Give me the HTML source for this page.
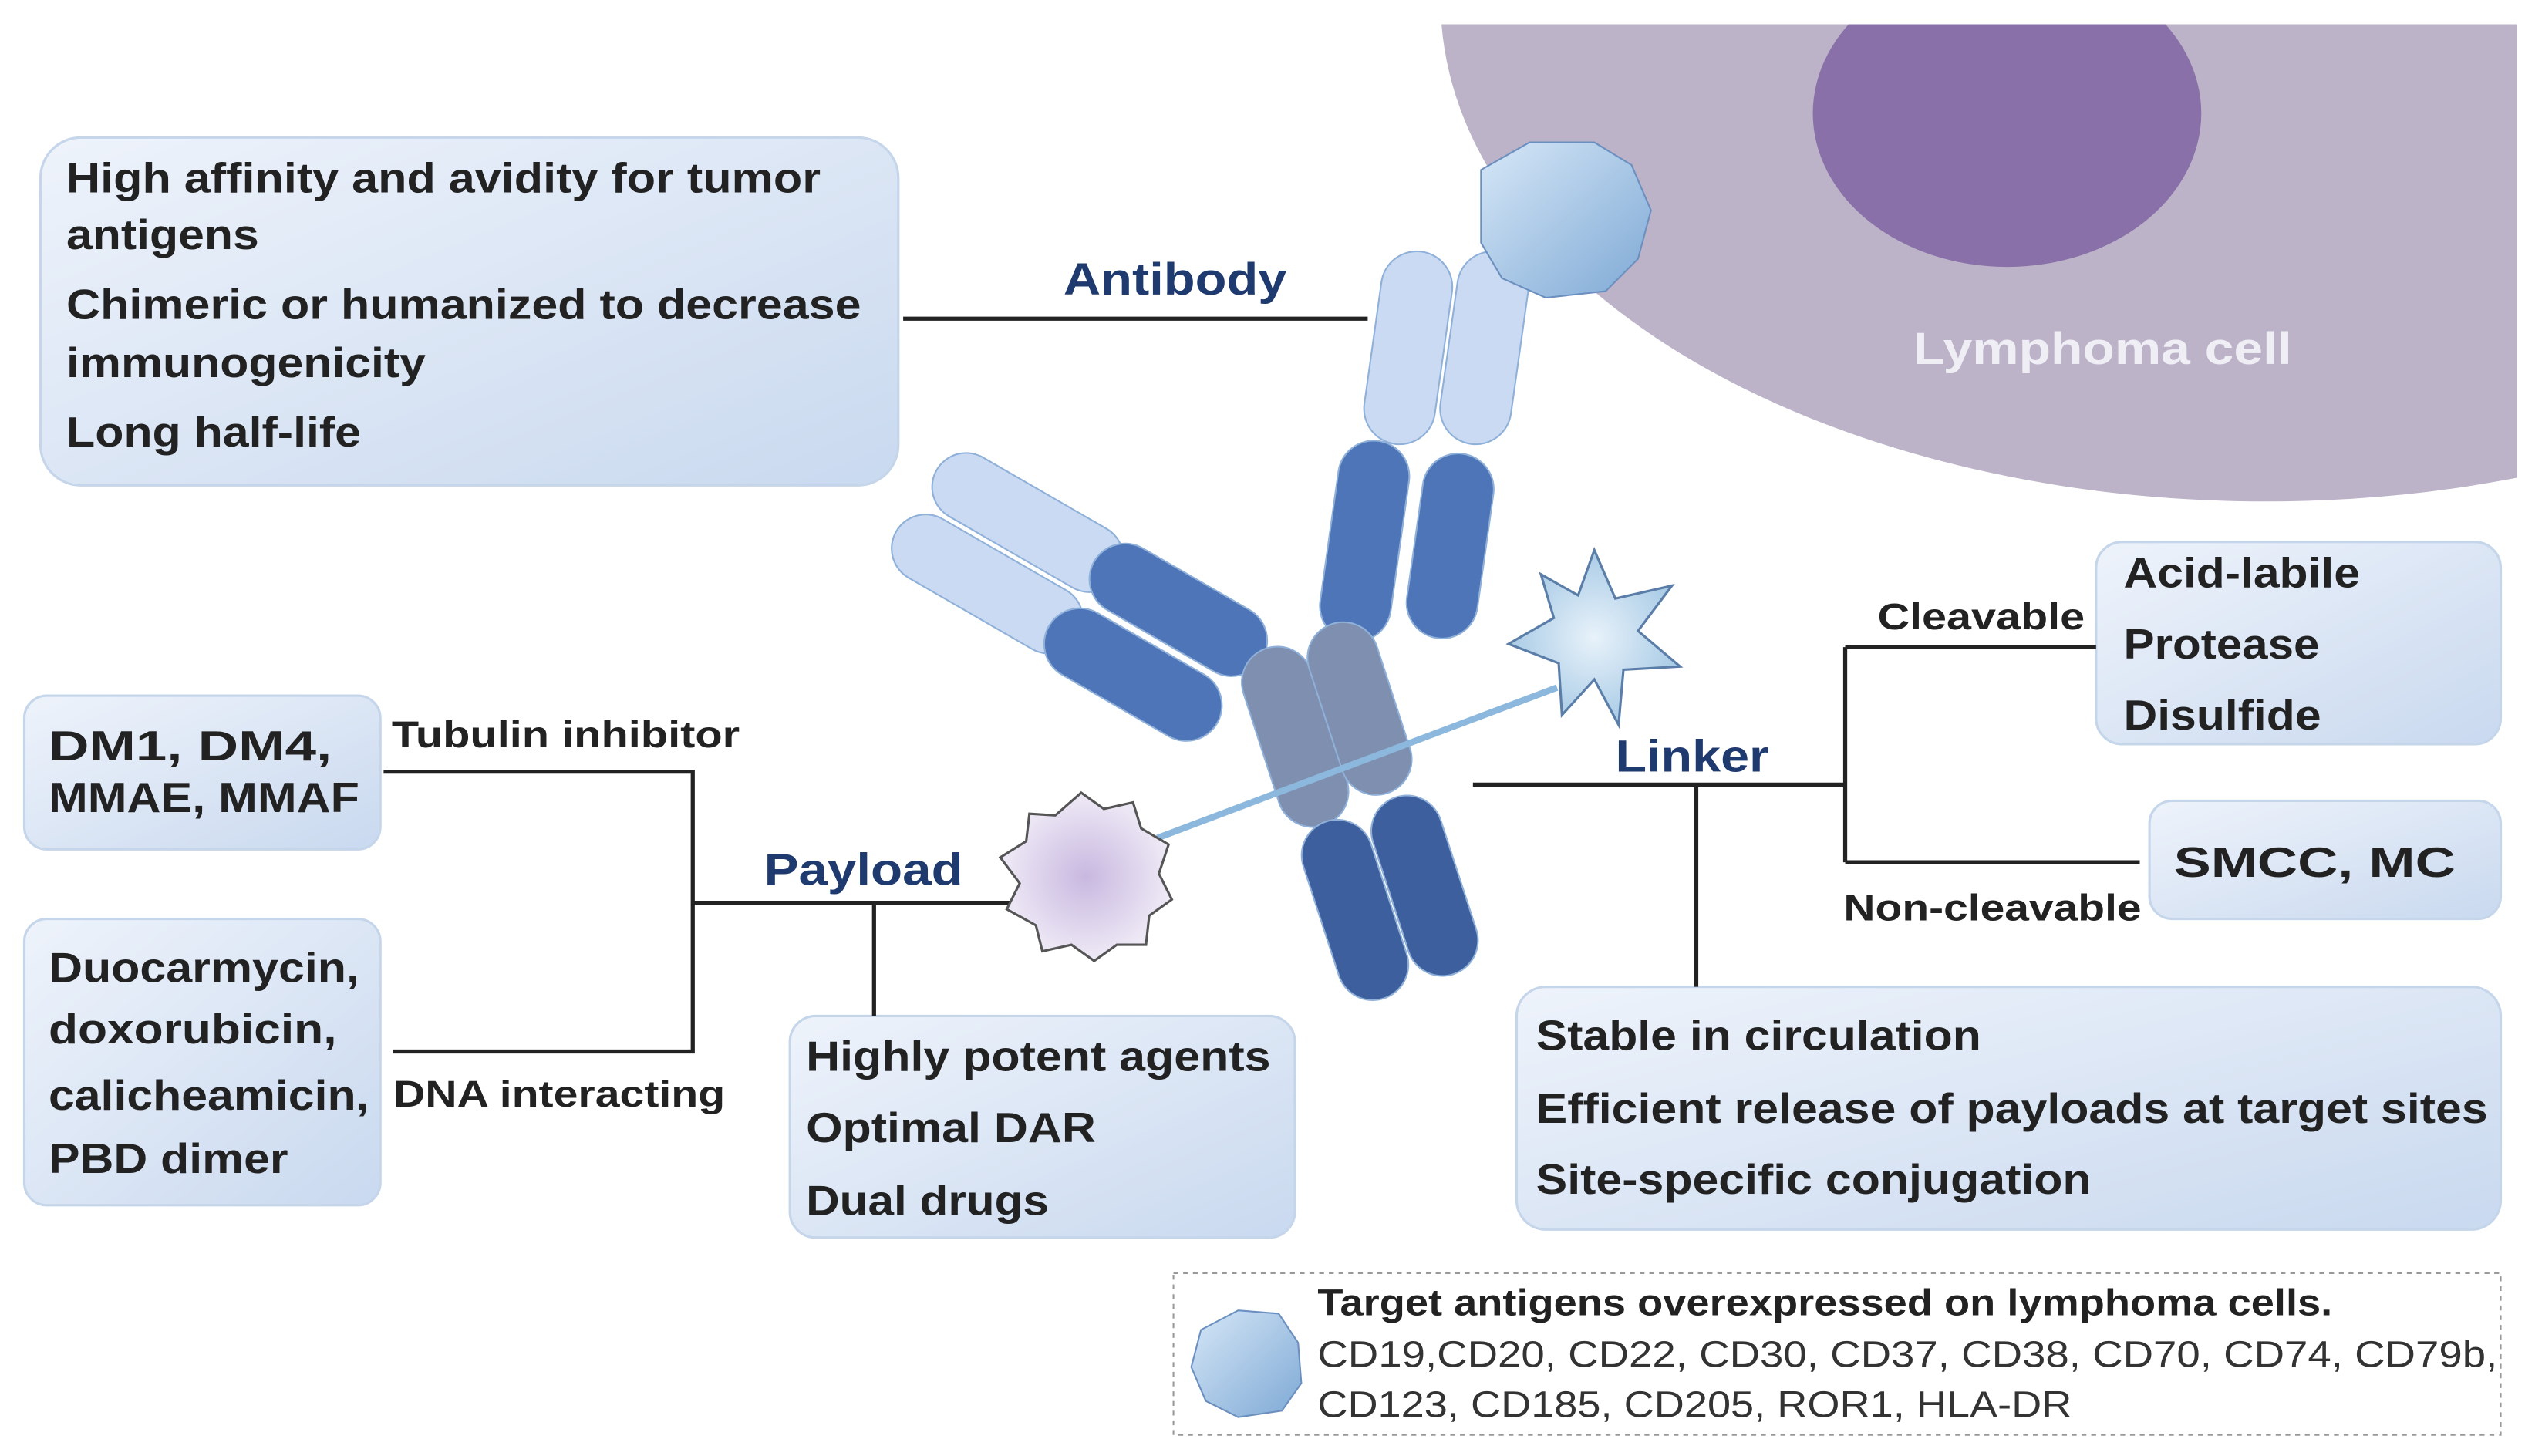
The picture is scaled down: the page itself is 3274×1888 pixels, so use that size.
<!DOCTYPE html>
<html><head><meta charset="utf-8"><style>
html,body{margin:0;padding:0;background:#fff;}
svg{display:block;}
text{font-family:"Liberation Sans",Arial,sans-serif;}
</style></head><body>
<svg width="3274" height="1888" viewBox="0 0 1560 900" preserveAspectRatio="none" xmlns="http://www.w3.org/2000/svg">
<defs>
<linearGradient id="bx" x1="0" y1="0" x2="1" y2="1">
<stop offset="0" stop-color="#eef3fb"/><stop offset="1" stop-color="#c9d9ef"/></linearGradient>
<radialGradient id="pl" cx="0.5" cy="0.5" r="0.5"><stop offset="0" stop-color="#c8b8e0"/><stop offset="1" stop-color="#efeaf6"/></radialGradient>
<radialGradient id="st" cx="0.5" cy="0.5" r="0.5"><stop offset="0" stop-color="#e8f2fa"/><stop offset="1" stop-color="#a9cbe6"/></radialGradient>
<linearGradient id="ag" x1="0" y1="0" x2="1" y2="1"><stop offset="0" stop-color="#d6e7f7"/><stop offset="1" stop-color="#7ea9d5"/></linearGradient>
<clipPath id="cc"><rect x="0" y="15" width="1555" height="900"/></clipPath>
</defs>
<g clip-path="url(#cc)">
<ellipse cx="1400" cy="0" rx="510" ry="310" fill="#bcb3c9"/>
<ellipse cx="1240" cy="70" rx="120" ry="95" fill="#8a70a8"/>
</g>
<text x="1182" y="225" font-size="28" font-weight="bold" fill="#f0eef5" textLength="234" lengthAdjust="spacingAndGlyphs">Lymphoma cell</text>

<g fill="url(#bx)" stroke="#c5d5ea" stroke-width="1.5">
<rect x="25" y="85" width="530" height="215" rx="25"/>
<rect x="15" y="430" width="220" height="95" rx="14"/>
<rect x="15" y="568" width="220" height="177" rx="14"/>
<rect x="488" y="628" width="312" height="137" rx="16"/>
<rect x="1295" y="335" width="250" height="125" rx="16"/>
<rect x="1328" y="495" width="217" height="73" rx="14"/>
<rect x="937" y="610" width="608" height="150" rx="18"/>
</g>
<rect x="725" y="787" width="820" height="100" fill="none" stroke="#999" stroke-dasharray="3,3"/>

<g stroke="#222" stroke-width="2.5" fill="none">
<path d="M558 197H845"/>
<path d="M237 477H428V650H243"/>
<path d="M428 558H630"/>
<path d="M540 558V628"/>
<path d="M910 485H1140"/>
<path d="M1140 400V533"/>
<path d="M1140 400H1295"/>
<path d="M1140 533H1322"/>
<path d="M1048 485V610"/>
</g>

<g stroke="#8fb0d8" stroke-width="1">
<rect x="848" y="155" width="44" height="120" rx="22" fill="#c9daf2" transform="rotate(8 870 215)"/>
<rect x="895" y="155" width="44" height="120" rx="22" fill="#c9daf2" transform="rotate(8 917 215)"/>
<rect x="821" y="272" width="44" height="125" rx="22" fill="#4d75b8" transform="rotate(8 843 335)"/>
<rect x="874" y="280" width="44" height="115" rx="22" fill="#4d75b8" transform="rotate(8 896 337)"/>
<rect x="570" y="302" width="130" height="42" rx="21" fill="#c9daf2" transform="rotate(30 635 323)"/>
<rect x="545" y="340" width="130" height="42" rx="21" fill="#c9daf2" transform="rotate(30 610 361)"/>
<rect x="668" y="355" width="120" height="44" rx="22" fill="#4d75b8" transform="rotate(30 728 377)"/>
<rect x="640" y="395" width="120" height="44" rx="22" fill="#4d75b8" transform="rotate(30 700 417)"/>
<rect x="778" y="398" width="44" height="115" rx="22" fill="#7f8fb0" transform="rotate(-18 800 455)"/>
<rect x="818" y="383" width="44" height="110" rx="22" fill="#7f8fb0" transform="rotate(-18 840 438)"/>
<rect x="815" y="505" width="44" height="115" rx="22" fill="#3e5f9e" transform="rotate(-18 837 562)"/>
<rect x="858" y="490" width="44" height="115" rx="22" fill="#3e5f9e" transform="rotate(-18 880 547)"/>
</g>
<path d="M915 105 L945 88 L985 88 L1008 102 L1020 130 L1012 160 L992 180 L955 184 L928 172 L915 150 Z" fill="url(#ag)" stroke="#6b8fbf"/>
<line x1="715" y1="518" x2="962" y2="425" stroke="#8bb8dc" stroke-width="4"/>
<polygon points="985,340 998,370 1033,362 1012,390 1038,412 1003,414 1000,448 985,420 965,442 963,410 932,398 960,382 952,355 975,368" fill="url(#st)" stroke="#5b7ea8" stroke-width="1.5"/>
<path d="M668 490 L682 500 L700 496 L705 512 L722 522 L716 540 L724 556 L710 566 L708 584 L690 584 L676 594 L662 584 L644 588 L640 572 L622 562 L630 546 L618 530 L634 520 L636 503 L652 504Z" fill="url(#pl)" stroke="#555" stroke-width="1.5"/>

<g font-weight="bold" fill="#1e3a6e" font-size="28">
<text x="657" y="182" textLength="138" lengthAdjust="spacingAndGlyphs">Antibody</text>
<text x="472" y="547" textLength="123" lengthAdjust="spacingAndGlyphs">Payload</text>
<text x="998" y="477" textLength="95" lengthAdjust="spacingAndGlyphs">Linker</text>
</g>
<g font-weight="bold" fill="#222" font-size="23">
<text x="242" y="462" textLength="215" lengthAdjust="spacingAndGlyphs">Tubulin inhibitor</text>
<text x="243" y="684" textLength="205" lengthAdjust="spacingAndGlyphs">DNA interacting</text>
<text x="1160" y="389" textLength="128" lengthAdjust="spacingAndGlyphs">Cleavable</text>
<text x="1139" y="569" textLength="184" lengthAdjust="spacingAndGlyphs">Non-cleavable</text>
</g>
<g font-weight="bold" fill="#222" font-size="26">
<text x="41" y="119" textLength="466" lengthAdjust="spacingAndGlyphs">High affinity and avidity for tumor</text>
<text x="41" y="154" textLength="119" lengthAdjust="spacingAndGlyphs">antigens</text>
<text x="41" y="197" textLength="491" lengthAdjust="spacingAndGlyphs">Chimeric or humanized to decrease</text>
<text x="41" y="233" textLength="222" lengthAdjust="spacingAndGlyphs">immunogenicity</text>
<text x="41" y="276" textLength="182" lengthAdjust="spacingAndGlyphs">Long half-life</text>
<text x="30" y="470" textLength="175" lengthAdjust="spacingAndGlyphs">DM1, DM4,</text>
<text x="30" y="502" textLength="192" lengthAdjust="spacingAndGlyphs">MMAE, MMAF</text>
<text x="30" y="607" textLength="192" lengthAdjust="spacingAndGlyphs">Duocarmycin,</text>
<text x="30" y="645" textLength="178" lengthAdjust="spacingAndGlyphs">doxorubicin,</text>
<text x="30" y="686" textLength="198" lengthAdjust="spacingAndGlyphs">calicheamicin,</text>
<text x="30" y="725" textLength="148" lengthAdjust="spacingAndGlyphs">PBD dimer</text>
<text x="498" y="662" textLength="287" lengthAdjust="spacingAndGlyphs">Highly potent agents</text>
<text x="498" y="706" textLength="179" lengthAdjust="spacingAndGlyphs">Optimal DAR</text>
<text x="498" y="751" textLength="150" lengthAdjust="spacingAndGlyphs">Dual drugs</text>
<text x="1312" y="363" textLength="146" lengthAdjust="spacingAndGlyphs">Acid-labile</text>
<text x="1312" y="407" textLength="121" lengthAdjust="spacingAndGlyphs">Protease</text>
<text x="1312" y="451" textLength="122" lengthAdjust="spacingAndGlyphs">Disulfide</text>
<text x="1343" y="542" textLength="174" lengthAdjust="spacingAndGlyphs">SMCC, MC</text>
<text x="949" y="649" textLength="275" lengthAdjust="spacingAndGlyphs">Stable in circulation</text>
<text x="949" y="694" textLength="588" lengthAdjust="spacingAndGlyphs">Efficient release of payloads at target sites</text>
<text x="949" y="738" textLength="343" lengthAdjust="spacingAndGlyphs">Site-specific conjugation</text>
</g>
<path d="M742 822 L765 810 L790 812 L802 830 L804 855 L792 872 L765 876 L745 866 L736 845 Z" fill="url(#ag)" stroke="#6b8fbf"/>
<text x="814" y="813" font-size="23" font-weight="bold" fill="#222" textLength="627" lengthAdjust="spacingAndGlyphs">Target antigens overexpressed on lymphoma cells.</text>
<text x="814" y="845" font-size="23" fill="#333" textLength="729" lengthAdjust="spacingAndGlyphs">CD19,CD20, CD22, CD30, CD37, CD38, CD70, CD74, CD79b,</text>
<text x="814" y="876" font-size="23" fill="#333" textLength="466" lengthAdjust="spacingAndGlyphs">CD123, CD185, CD205, ROR1, HLA-DR</text>
</svg>
</body></html>
